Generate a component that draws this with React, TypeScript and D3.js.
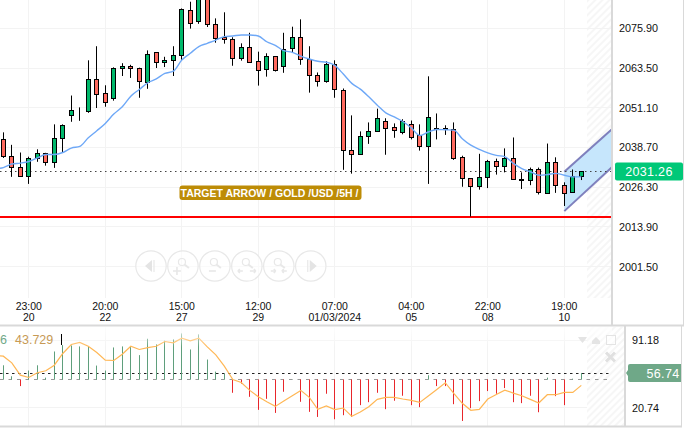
import * as d3 from "d3";
import { useEffect, useRef } from "react";

const width = 695;
const height = 429;

// candles
const opens = [
  2041.2, 2035.9, 2032.4, 2029.6, 2035.2, 2036.8, 2034.0, 2041.5, 2048.6, 2050.0,
  2049.8, 2059.9, 2055.6, 2053.9, 2063.4, 2064.0, 2063.4, 2059.2, 2068.4, 2065.3,
  2065.8, 2067.4, 2081.5, 2078.1, 2086.3, 2077.1, 2073.1, 2072.4, 2066.5, 2069.9,
  2065.6, 2063.1, 2067.1, 2064.0, 2069.6, 2073.1, 2066.2, 2061.2, 2059.3, 2064.6,
  2056.5, 2037.8, 2036.5, 2042.1, 2043.7, 2046.8, 2044.9, 2043.4, 2045.9, 2042.4,
  2039.0, 2044.3, 2044.3, 2044.3, 2035.6, 2029.0, 2026.4, 2029.3, 2034.3, 2032.8,
  2035.2, 2028.7, 2028.4, 2031.8, 2024.3, 2034.0, 2026.8, 2024.6, 2029.6,
];
const closes = [
  2035.8, 2032.4, 2029.6, 2035.2, 2036.8, 2034.0, 2041.5, 2045.6, 2050.3, 2049.9,
  2059.9, 2055.2, 2052.8, 2063.4, 2064.0, 2063.4, 2059.2, 2067.8, 2065.3, 2065.9,
  2067.4, 2081.8, 2077.4, 2086.8, 2077.1, 2072.8, 2072.4, 2066.5, 2069.9, 2065.3,
  2062.8, 2067.1, 2062.7, 2069.3, 2073.1, 2066.1, 2061.2, 2059.3, 2064.6, 2056.8,
  2037.8, 2036.5, 2042.1, 2043.7, 2047.8, 2044.6, 2044.0, 2046.8, 2041.8, 2039.0,
  2048.1, 2044.6, 2044.6, 2035.2, 2029.0, 2026.4, 2029.3, 2034.3, 2032.8, 2035.2,
  2028.7, 2028.4, 2031.8, 2024.6, 2034.0, 2026.8, 2024.3, 2029.6, 2031.2,
];
const highs = [
  2043.4, 2039.5, 2037.1, 2035.8, 2038.1, 2037.0, 2045.9, 2045.9, 2054.9, 2051.2,
  2065.9, 2070.3, 2058.1, 2063.7, 2065.0, 2064.5, 2063.6, 2069.0, 2068.4, 2067.0,
  2070.3, 2082.1, 2084.2, 2087.9, 2087.3, 2079.0, 2080.9, 2073.1, 2071.2, 2074.5,
  2068.6, 2068.1, 2067.1, 2074.5, 2076.4, 2078.7, 2070.3, 2062.1, 2065.6, 2065.9,
  2057.1, 2048.7, 2043.7, 2046.5, 2050.8, 2047.8, 2046.2, 2047.5, 2047.1, 2045.9,
  2060.9, 2049.3, 2045.6, 2046.5, 2036.1, 2029.0, 2036.7, 2034.8, 2035.2, 2038.4,
  2041.8, 2030.9, 2032.4, 2032.4, 2039.9, 2035.6, 2027.8, 2031.8, 2031.2,
];
const lows = [
  2035.4, 2029.5, 2029.6, 2027.3, 2034.2, 2033.0, 2032.3, 2037.1, 2046.7, 2047.0,
  2049.5, 2051.0, 2051.4, 2053.3, 2061.0, 2060.4, 2054.2, 2057.0, 2063.5, 2063.8,
  2061.0, 2065.7, 2075.8, 2077.3, 2076.3, 2071.4, 2071.1, 2064.2, 2065.8, 2065.3,
  2058.0, 2060.8, 2062.4, 2062.0, 2068.4, 2064.5, 2055.8, 2057.7, 2058.9, 2054.2,
  2031.7, 2030.5, 2036.5, 2039.8, 2043.7, 2036.4, 2041.7, 2042.8, 2041.2, 2037.7,
  2027.3, 2041.2, 2042.6, 2034.8, 2026.4, 2017.1, 2025.5, 2026.0, 2030.2, 2030.9,
  2028.7, 2025.7, 2026.9, 2024.0, 2024.3, 2024.5, 2020.4, 2024.6, 2028.5,
];

// moving average, first value belongs to the bar just off the left edge
const movingAverage = [
  2032.0, 2032.4, 2033.5, 2033.8, 2034.3, 2035.4, 2036.5, 2036.5, 2037.1, 2038.5, 2039.0,
  2041.7, 2043.9, 2046.2, 2049.1, 2051.4, 2054.7, 2056.8, 2058.9, 2060.1, 2061.8,
  2062.5, 2066.0, 2068.1, 2070.2, 2071.2, 2072.2, 2073.3, 2073.5, 2073.8, 2073.8,
  2073.5, 2071.7, 2070.6, 2068.9, 2068.4, 2067.2, 2066.3, 2065.6, 2065.3, 2064.3,
  2061.6, 2058.7, 2056.9, 2054.5, 2051.9, 2049.5, 2048.2, 2046.8, 2044.8, 2042.4,
  2043.5, 2044.3, 2044.2, 2044.1, 2041.4, 2039.4, 2038.1, 2037.0, 2036.2, 2035.8,
  2033.7, 2032.1, 2031.1, 2030.0, 2030.2, 2030.6, 2030.0, 2029.5, 2029.5,
];

// histogram around the 50 level
const histogram = [
  15.0, 3.5, -6.7, 9.5, 15.0, 2.1, 29.4, 36.1, 35.7, 34.7,
  34.7, 14.7, 9.5, 33.6, 34.7, 34.7, 25.6, 42.7, 36.8, 40.6,
  42.0, 48.3, 31.5, 47.3, 21.0, 8.4, 6.3, -13.7, -4.2, -17.9,
  -31.5, -20.0, -34.7, -12.6, 0, -23.1, -33.6, -38.9, -14.7, -41.3,
  -37.1, -38.9, -26.6, -23.5, -13.7, -30.8, -22.0, -16.8, -26.6, -28.7,
  4.6, -6.7, -6.7, -25.6, -43.1, -29.8, -22.4, -11.9, -14.7, -8.8,
  -23.5, -24.5, -16.8, -34.0, 2.1, -17.2, -26.6, 1.0, 7.0,
];

// orange line of the lower pane, same offset as movingAverage
const signal = [
  75.6, 74.5, 67.6, 54.7, 52.3, 57.2, 59.3, 65.1, 77.3, 86.7, 88.8,
  84.9, 78.3, 70.4, 70.0, 76.6, 84.9, 81.5, 83.5, 84.9, 89.8,
  88.4, 93.3, 90.5, 93.3, 84.2, 75.9, 64.1, 50.2, 47.1, 38.8,
  32.2, 27.0, 22.1, 27.7, 33.2, 38.8, 31.5, 19.0, 22.5, 18.7,
  20.4, 11.7, 16.2, 21.8, 29.4, 31.5, 31.5, 29.8, 28.4, 26.3,
  32.9, 39.8, 46.8, 35.7, 25.3, 18.0, 19.0, 29.8, 34.6, 39.1,
  36.0, 33.2, 29.4, 25.6, 34.3, 34.3, 36.7, 36.7, 44.0,
];

const priceTicks = [2075.9, 2063.5, 2051.1, 2038.7, 2026.3, 2013.9, 2001.5];
const lowerTicks = [91.18, 20.74];
const timeTickIndex = [3, 12, 21, 30, 39, 48, 57, 66];
const timeLabels = ["23:00", "20:00", "15:00", "12:00", "07:00", "04:00", "22:00", "19:00"];
const dateLabels = ["20", "22", "27", "29", "01/03/2024", "05", "08", "10"];

const lastPrice = 2031.26;
const supportLevel = 2016.9;
const lastLower = 56.74;
const legendFirst = "6";
const legendValue = "43.729";
const bannerText = "TARGET ARROW / GOLD /USD /5H /";
// channel corners as [bar, price]
const channel: [number, number][] = [
  [66, 2031.1],
  [72, 2045.3],
  [72, 2033.5],
  [66, 2018.8],
];

const fontFamily = "'Liberation Sans', Arial, sans-serif";
const up = "#00b86b";
const down = "#ff6a5f";

// snap to the pixel grid so thin lines stay sharp
const snap = (v: number) => Math.floor(v) + 0.5;

const drawChart = (target: any) => {
  const x = d3.scaleLinear().domain([0, 68]).range([3.3, 581.3]);
  const y = d3.scaleLinear().domain([2075.9, 2001.5]).range([28.3, 266.5]);
  const yLow = d3.scaleLinear().domain([91.18, 20.74]).range([340.2, 407.7]);
  const bars = d3.range(opens.length);

  const svg = d3
    .create("svg")
    .attr("width", width)
    .attr("height", height)
    .style("display", "block")
    .style("background", "#fff")
    .style("font-family", fontFamily);

  const defs = svg.append("defs");
  const hatch = defs
    .append("pattern")
    .attr("id", "hatch")
    .attr("width", 5)
    .attr("height", 5)
    .attr("patternUnits", "userSpaceOnUse")
    .attr("patternTransform", "rotate(-45)");
  hatch.append("rect").attr("width", 5).attr("height", 2).attr("fill", "#f6f6f6");
  const fade = defs
    .append("linearGradient")
    .attr("id", "fade")
    .attr("x1", 0)
    .attr("x2", 0)
    .attr("y1", 0)
    .attr("y2", 1);
  fade.append("stop").attr("offset", 0).attr("stop-color", "#fff").attr("stop-opacity", 0.85);
  fade.append("stop").attr("offset", 1).attr("stop-color", "#fff").attr("stop-opacity", 0);
  defs
    .append("clipPath")
    .attr("id", "main")
    .append("rect")
    .attr("width", 612)
    .attr("height", 298);
  defs
    .append("clipPath")
    .attr("id", "low")
    .append("rect")
    .attr("y", 327)
    .attr("width", 624)
    .attr("height", 99);

  // hatched future zone
  svg.append("rect").attr("x", 587).attr("width", 24).attr("height", 298).attr("fill", "url(#hatch)");
  svg.append("rect").attr("x", 587).attr("y", 327).attr("width", 37).attr("height", 99).attr("fill", "url(#hatch)");

  // grid
  const grid = svg.append("g").attr("stroke", "#f3f3f3").attr("fill", "none");
  priceTicks.forEach((t) => {
    grid.append("line").attr("x1", 0).attr("x2", 611).attr("y1", snap(y(t))).attr("y2", snap(y(t)));
  });
  timeTickIndex.forEach((i) => {
    grid.append("line").attr("x1", snap(x(i))).attr("x2", snap(x(i))).attr("y1", 0).attr("y2", 298);
    grid.append("line").attr("x1", snap(x(i))).attr("x2", snap(x(i))).attr("y1", 327).attr("y2", 426);
  });
  lowerTicks.forEach((t) => {
    grid.append("line").attr("x1", 0).attr("x2", 587).attr("y1", snap(yLow(t))).attr("y2", snap(yLow(t)));
  });

  // navigation buttons
  const nav = svg.append("g").attr("fill", "none").attr("stroke", "#e8e8e8").attr("stroke-width", 1.2);
  d3.range(6).forEach((k) => {
    const cx = 151 + k * 31.95;
    const cy = 266;
    nav.append("circle").attr("cx", cx).attr("cy", cy).attr("r", 15.2).attr("fill", "#fff").attr("fill-opacity", 0.6);
    if (k === 0) {
      nav.append("path").attr("d", `M${cx - 6},${cy}L${cx + 1},${cy - 6}V${cy + 6}Z`).attr("fill", "#e4e4e4").attr("stroke", "none");
      nav.append("line").attr("x1", cx + 3).attr("x2", cx + 3).attr("y1", cy - 6).attr("y2", cy + 6);
    } else if (k === 5) {
      nav.append("path").attr("d", `M${cx + 6},${cy}L${cx - 1},${cy - 6}V${cy + 6}Z`).attr("fill", "#e4e4e4").attr("stroke", "none");
      nav.append("line").attr("x1", cx - 3).attr("x2", cx - 3).attr("y1", cy - 6).attr("y2", cy + 6);
    } else {
      nav.append("circle").attr("cx", cx - 1).attr("cy", cy - 4).attr("r", 3.5);
      nav.append("line").attr("x1", cx + 1.5).attr("x2", cx + 6).attr("y1", cy - 1.5).attr("y2", cy + 2).attr("stroke-width", 2);
      const sign = nav.append("g").attr("stroke-width", 1.6);
      if (k === 1) {
        sign.append("path").attr("d", `M${cx - 10},${cy + 5}h8M${cx - 6},${cy + 1}v8`);
      } else if (k === 2) {
        sign.append("path").attr("d", `M${cx - 6},${cy + 5}h7`);
      } else if (k === 3) {
        sign.append("path").attr("d", `M${cx - 9},${cy + 5}h5M${cx - 9},${cy + 5}l2,-2M${cx - 9},${cy + 5}l2,2M${cx + 3},${cy + 5}h6M${cx + 9},${cy + 5}l-2,-2M${cx + 9},${cy + 5}l-2,2`);
      } else {
        sign.append("path").attr("d", `M${cx - 8},${cy + 5}h5M${cx - 3},${cy + 5}l-2,-2M${cx - 3},${cy + 5}l-2,2M${cx + 3},${cy + 5}h5M${cx + 3},${cy + 5}l2,-2M${cx + 3},${cy + 5}l2,2`);
      }
    }
  });

  const main = svg.append("g").attr("clip-path", "url(#main)");

  // target channel
  main
    .append("path")
    .attr("d", d3.line()(channel.map(([b, p]) => [x(b), y(p)]))! + "Z")
    .attr("fill", "#c6e6fc");
  [channel.slice(0, 2), channel.slice(2)].forEach((edge) => {
    main
      .append("path")
      .attr("d", d3.line()(edge.map(([b, p]) => [x(b), y(p)])))
      .attr("fill", "none")
      .attr("stroke", "#7f80bd")
      .attr("stroke-width", 2);
  });

  // last price and support
  main
    .append("line")
    .attr("x1", 0)
    .attr("x2", 612)
    .attr("y1", snap(y(lastPrice)))
    .attr("y2", snap(y(lastPrice)))
    .attr("stroke", "#444")
    .attr("stroke-dasharray", "1.5 3.5");
  main
    .append("line")
    .attr("x1", 0)
    .attr("x2", 612)
    .attr("y1", 217)
    .attr("y2", 217)
    .attr("stroke", "#f00")
    .attr("stroke-width", 2);

  // candles
  const candles = main.selectAll("g.candle").data(bars).join("g").attr("class", "candle");
  candles
    .append("line")
    .attr("x1", (i) => snap(x(i)))
    .attr("x2", (i) => snap(x(i)))
    .attr("y1", (i) => y(highs[i]))
    .attr("y2", (i) => y(lows[i]))
    .attr("stroke", "#000")
    .attr("stroke-width", 1);
  candles
    .append("rect")
    .attr("x", (i) => snap(x(i)) - 2)
    .attr("width", 4)
    .attr("y", (i) => snap(y(Math.max(opens[i], closes[i]))))
    .attr("height", (i) => Math.round(Math.abs(y(opens[i]) - y(closes[i]))))
    .attr("fill", (i) => (closes[i] >= opens[i] ? up : down))
    .attr("stroke", "#000")
    .attr("stroke-width", 1);

  // moving average
  const maLine = d3
    .line<number>()
    .x((_, i) => x(i - 1))
    .y((d) => y(d))
    .curve(d3.curveMonotoneX);
  main
    .append("path")
    .attr("d", maLine(movingAverage))
    .attr("fill", "none")
    .attr("stroke", "#6ea8f7")
    .attr("stroke-width", 1.4);

  // banner
  const banner = svg.append("g");
  banner.append("rect").attr("x", 179.5).attr("y", 185.5).attr("width", 182).attr("height", 14.5).attr("rx", 3).attr("fill", "#bd8c06");
  banner
    .append("text")
    .attr("x", 269.5)
    .attr("y", 196.8)
    .attr("text-anchor", "middle")
    .attr("fill", "#fff")
    .attr("font-size", 10.5)
    .attr("font-weight", "bold")
    .text(bannerText);

  // lower pane
  const low = svg.append("g").attr("clip-path", "url(#low)");
  low
    .append("line")
    .attr("x1", 0)
    .attr("x2", 612)
    .attr("y1", snap(yLow(lastLower)))
    .attr("y2", snap(yLow(lastLower)))
    .attr("stroke", "#222")
    .attr("stroke-dasharray", "2.5 3.5");
  low
    .append("line")
    .attr("x1", 0)
    .attr("x2", 612)
    .attr("y1", snap(yLow(50)))
    .attr("y2", snap(yLow(50)))
    .attr("stroke", "#999")
    .attr("stroke-dasharray", "3.5 5");
  low
    .selectAll("line.hist")
    .data(bars)
    .join("line")
    .attr("class", "hist")
    .attr("x1", (i) => snap(x(i)))
    .attr("x2", (i) => snap(x(i)))
    .attr("y1", snap(yLow(50)))
    .attr("y2", (i) => yLow(50 + histogram[i]))
    .attr("stroke", (i) => (histogram[i] >= 0 ? "#5f9f7c" : "#e8262b"))
    .attr("stroke-width", 1);
  const signalLine = d3
    .line<number>()
    .x((_, i) => x(i - 1))
    .y((d) => yLow(d));
  low
    .append("path")
    .attr("d", signalLine(signal))
    .attr("fill", "none")
    .attr("stroke", "#ffb755")
    .attr("stroke-width", 1.2);
  low.append("rect").attr("y", 327).attr("width", 612).attr("height", 20).attr("fill", "url(#fade)");

  // legend of the lower pane
  svg.append("text").attr("x", 0).attr("y", 344).attr("font-size", 12.5).attr("fill", "#6fa888").text(legendFirst);
  svg.append("text").attr("x", 15).attr("y", 344).attr("font-size", 12.5).attr("fill", "#c79a55").text(legendValue);
  svg.append("line").attr("x1", 61.5).attr("x2", 61.5).attr("y1", 334).attr("y2", 345).attr("stroke", "#000");

  // pane icons
  const icons = svg.append("g").attr("fill", "#e4e4e4");
  icons.append("path").attr("d", "M578,337h9l-2,3l-2.5,3l-2.5,-3Z");
  icons.append("path").attr("d", "M592,344v-3l4,-4l4,4v3Z");
  icons.append("rect").attr("x", 606.5).attr("y", 335.5).attr("width", 9).attr("height", 9).attr("fill", "#fff").attr("fill-opacity", 0.5).attr("stroke", "#e4e4e4");
  icons.append("path").attr("d", "M606,352.5l9,9M615,352.5l-9,9").attr("stroke", "#e0e0e0").attr("stroke-width", 3);

  // frame
  const frame = svg.append("g").attr("fill", "#fff");
  frame.append("rect").attr("x", 613).attr("width", 70).attr("height", 325);
  frame.append("rect").attr("x", 626).attr("y", 327).attr("width", 55).attr("height", 99);
  const borders = svg.append("g").attr("stroke", "#d9d9d9");
  borders.append("line").attr("x1", 612).attr("x2", 612).attr("y1", 0).attr("y2", 325).attr("stroke-width", 2);
  borders.append("line").attr("x1", 683.5).attr("x2", 683.5).attr("y1", 0).attr("y2", 325);
  borders.append("line").attr("x1", 0).attr("x2", 684).attr("y1", 325.5).attr("y2", 325.5).attr("stroke-width", 2);
  borders.append("line").attr("x1", 625).attr("x2", 625).attr("y1", 326).attr("y2", 427).attr("stroke-width", 2);
  borders.append("line").attr("x1", 681.5).attr("x2", 681.5).attr("y1", 326).attr("y2", 427);
  borders.append("line").attr("x1", 0).attr("x2", 682).attr("y1", 426.5).attr("y2", 426.5).attr("stroke-width", 2);

  // axes text
  svg
    .append("g")
    .selectAll("text")
    .data(priceTicks)
    .join("text")
    .attr("x", 619)
    .attr("y", (d) => y(d) + 4)
    .attr("font-size", 10.8)
    .attr("fill", "#111")
    .text((d) => d3.format(".2f")(d));
  const timeAxis = svg.append("g").attr("font-size", 10.5).attr("fill", "#111").attr("text-anchor", "middle");
  timeTickIndex.forEach((b, k) => {
    timeAxis.append("text").attr("x", x(b)).attr("y", 310).text(timeLabels[k]);
    timeAxis.append("text").attr("x", x(b)).attr("y", 321).text(dateLabels[k]);
  });
  svg
    .append("g")
    .selectAll("text")
    .data(lowerTicks)
    .join("text")
    .attr("x", 632)
    .attr("y", (d) => yLow(d) + 4)
    .attr("font-size", 10.8)
    .attr("fill", "#111")
    .text((d) => d3.format(".2f")(d));

  // price badges
  svg.append("rect").attr("x", 615).attr("y", 162.5).attr("width", 68).attr("height", 18).attr("rx", 2).attr("fill", "#00c878");
  svg
    .append("text")
    .attr("x", 649)
    .attr("y", 176)
    .attr("text-anchor", "middle")
    .attr("fill", "#fff")
    .attr("font-size", 12.5)
    .attr("letter-spacing", 0.3)
    .text(d3.format(".2f")(lastPrice));
  svg.append("path").attr("d", "M681,364H630Q628,364 628,366V370L626,373L628,376V380Q628,382 630,382H681Z").attr("fill", "#6fa888");
  svg
    .append("text")
    .attr("x", 663)
    .attr("y", 377.5)
    .attr("text-anchor", "middle")
    .attr("fill", "#fff")
    .attr("font-size", 12.5)
    .attr("letter-spacing", 0.3)
    .text(d3.format(".2f")(lastLower));

  const targetAccess = d3.select(target);
  targetAccess.selectAll("svg").remove();
  targetAccess.append(() => svg.node());
};

const App = () => {
  const targetRef = useRef<HTMLDivElement>(null);
  useEffect(() => {
    if (targetRef.current) drawChart(targetRef.current);
  }, []);
  return (
    <div
      ref={targetRef}
      style={{ position: "fixed", left: 0, top: 0, width, height }}
    />
  );
};

export default App;
